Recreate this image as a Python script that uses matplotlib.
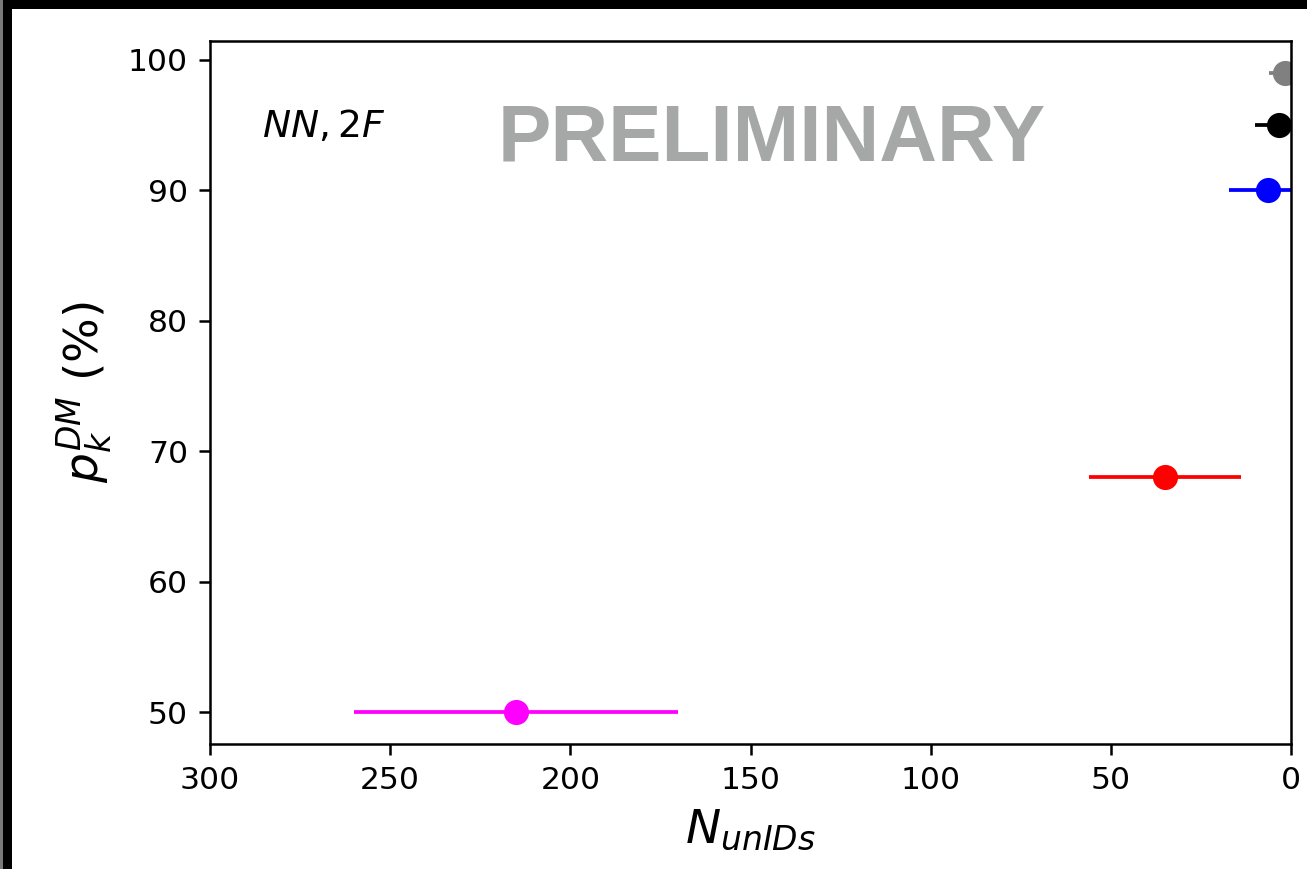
import matplotlib
matplotlib.use("Agg")
import matplotlib.pyplot as plt
from matplotlib.patches import Rectangle

# Per-selection results: number of unassociated sources vs. DM probability
n_unids = [1.7, 3.3, 6.4, 35, 215]
n_unids_err = [4.5, 6.7, 10.8, 21, 45]
p_dm = [99, 95, 90, 68, 50]
colors = ["gray", "black", "blue", "red", "magenta"]

W, H, DPI = 1307, 869, 226
fig = plt.figure(figsize=(W / DPI, H / DPI), dpi=DPI)
fig.patch.set_facecolor("black")

# white canvas inside the dark frame, plus thin grey edge on the far left
fig.add_artist(Rectangle((12 / W, 0), 1 - 12 / W, 1 - 9 / H,
                         transform=fig.transFigure, facecolor="white",
                         edgecolor="none", zorder=-2))
fig.add_artist(Rectangle((0, 0), 3 / W, 1, transform=fig.transFigure,
                         facecolor="#7a7a7a", edgecolor="none", zorder=-2))

ax = fig.add_axes([210 / W, 125 / H, (1291 - 210) / W, (744 - 41) / H])

for x, xe, y, c in zip(n_unids, n_unids_err, p_dm, colors):
    ax.errorbar(x, y, xerr=xe, fmt="o", color=c, ms=7, elinewidth=1.2,
                capsize=0)

ax.set_xlim(300, 0)
ax.set_xlabel(r"$N_{unIDs}$", fontsize=15)
ax.set_ylabel(r"$p_{k}^{DM}$ (%)", fontsize=15)

ax.text(0.048, 0.878, r"$NN, 2F$", transform=ax.transAxes, fontsize=12,
        va="center", ha="left")

fig.text(771.5 / W, 1 - 140 / H, "PRELIMINARY", fontsize=25.5,
         fontweight="bold", family="Liberation Sans", color="#a5a8a7",
         ha="center", va="center")

fig.savefig("out.png", dpi=DPI)
